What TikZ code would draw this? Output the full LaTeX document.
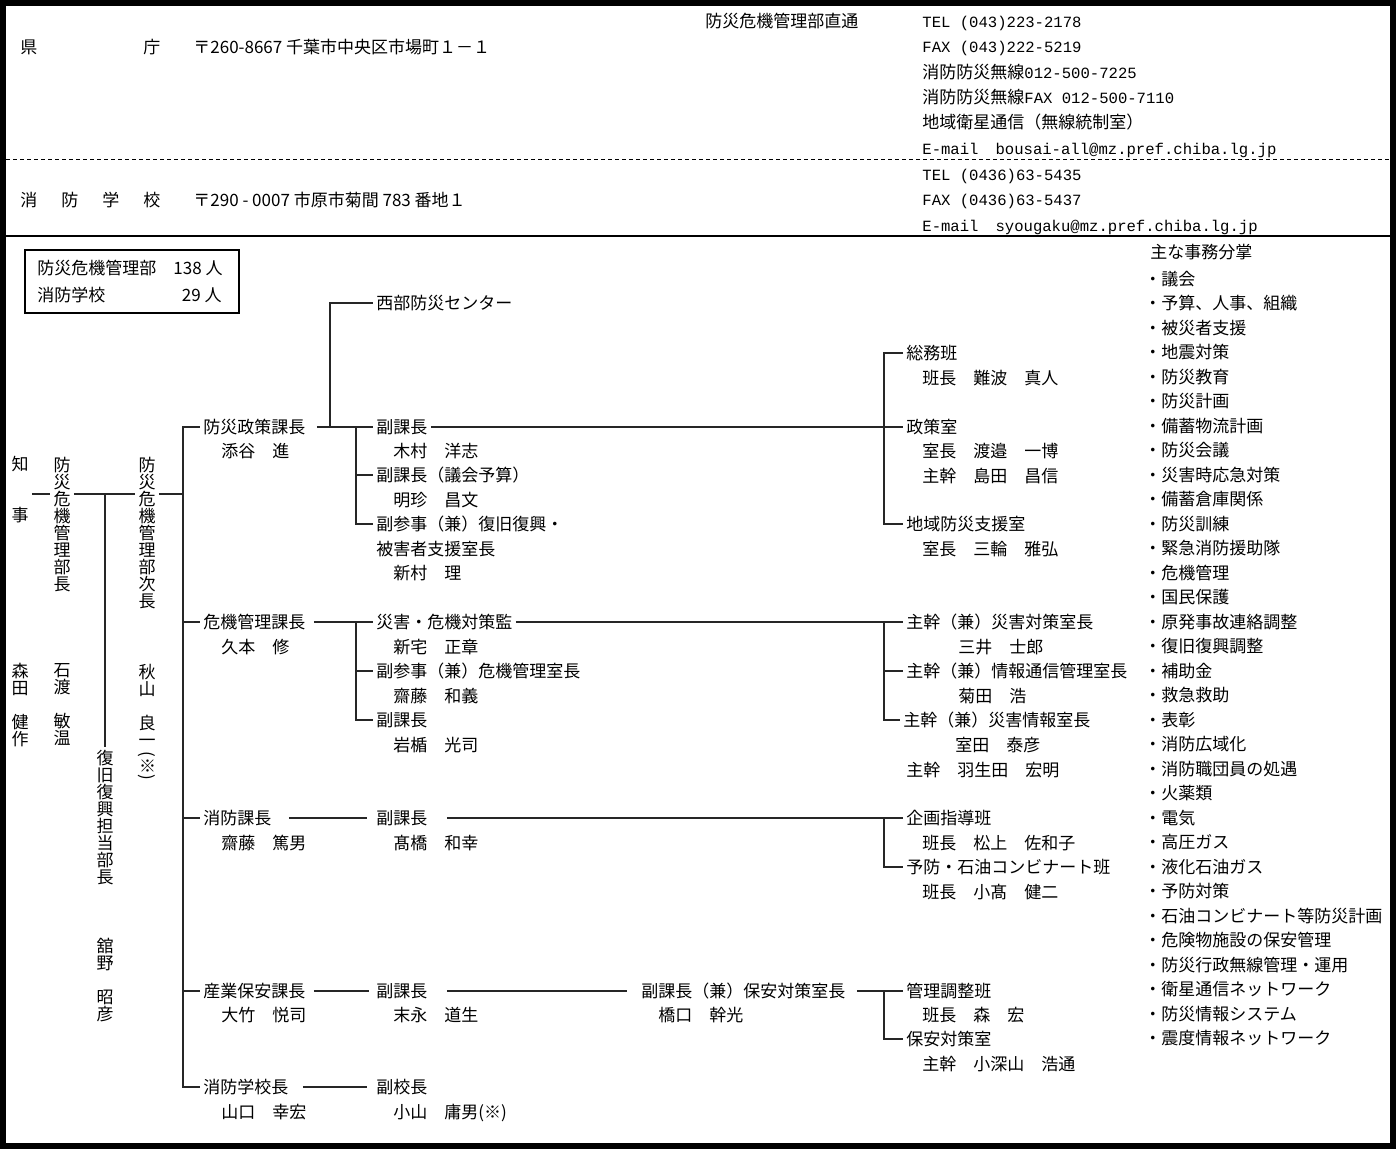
\documentclass[tikz,border=0pt]{standalone}
\usepackage{fontspec}
\setmainfont{Noto Sans CJK JP}
\newfontfamily\hdmono{Liberation Mono}
\usetikzlibrary{calc}
\newcommand{\orgfont}{\fontsize{8.5pt}{8.5pt}\selectfont}
\newcommand{\hdnum}[1]{{\hdmono\fontsize{7.8pt}{8.5pt}\selectfont #1}}

\begin{document}
\begin{tikzpicture}[
    x=0.5pt, y=-0.5pt,
    txt/.style={anchor=west, inner xsep=1.5pt, inner ysep=0pt, font=\orgfont,
                text height=7.2pt, text depth=0.8pt},
    vtxt/.style={align=center, inner sep=1.5pt, font=\orgfont},
    conn/.style={line width=0.8pt, black!85}
]
\useasboundingbox (0,0) rectangle (1396,1149);

% 外枠とヘッダー
\draw[line width=3pt] (3,3) rectangle (1393,1146);
\draw[line width=1pt] (6,236) -- (1390,236);
\draw[line width=0.5pt, dash pattern=on 2pt off 1.5pt] (6,160) -- (1390,160);

\node[txt] (ken)    at (17,47)  {県};
\node[txt] (chou)   at (140,47) {庁};
\node[txt] (addr)   at (190,47) {〒260-8667 千葉市中央区市場町１－１};
\node[txt] (direct) at (702,21) {防災危機管理部直通};
\node[txt] (tel)    at (919,21)  {\hdnum{TEL (043)223-2178}};
\node[txt] (fax)    at (919,46)  {\hdnum{FAX (043)222-5219}};
\node[txt] (musen)  at (919,72)  {消防防災無線\hdnum{012-500-7225}};
\node[txt] (mfax)   at (919,97)  {消防防災無線\hdnum{FAX 012-500-7110}};
\node[txt] (eisei)  at (919,122) {地域衛星通信（無線統制室）};
\node[txt] (mail)   at (919,148) {\hdnum{E-mail}　\hdnum{bousai-all@mz.pref.chiba.lg.jp}};

\node[txt] (school)  at (17,200)  {消\hspace{12pt}防\hspace{12pt}学\hspace{12pt}校};
\node[txt] (saddr)   at (190,200) {〒290 - 0007 市原市菊間 783 番地１};
\node[txt] (stel)    at (919,174) {\hdnum{TEL (0436)63-5435}};
\node[txt] (sfax)    at (919,199) {\hdnum{FAX (0436)63-5437}};
\node[txt] (smail)   at (919,225) {\hdnum{E-mail}　\hdnum{syougaku@mz.pref.chiba.lg.jp}};

% 職員数
\draw[line width=0.6pt] (25,250) rectangle (239,313);
\node[txt] (staff1) at (34,268) {防災危機管理部　138 人};
\node[txt] (staff2) at (34,295) {消防学校};
\node[txt, anchor=east] (staff2n) at (225,295) {29 人};

% 知事・部長・次長
\node[vtxt] (chiji)      at (20,490)  {知\\　\\　\\事};
\node[vtxt] (chijiname)  at (20,705)  {森\\田\\　\\健\\作};
\node[vtxt] (buchou)     at (62,525)  {防\\災\\危\\機\\管\\理\\部\\長};
\node[vtxt] (buchouname) at (62,705)  {石\\渡\\　\\敏\\温};
\node[vtxt] (jichou)     at (147,533) {防\\災\\危\\機\\管\\理\\部\\次\\長};
\node[vtxt] (jichouname) at (147,705) {秋\\山\\　\\良\\一};
\node[vtxt, rotate=-90] (kome) at (147,766) {(※)};
\node[vtxt] (fukkou)     at (105,818) {復\\旧\\復\\興\\担\\当\\部\\長};
\node[vtxt] (fukkouname) at (105,980) {舘\\野\\　\\昭\\彦};

\coordinate (chain)  at (0,494);
\coordinate (fkjoint) at (105,494);
\coordinate (trunk)  at (183,494);
\draw[conn] (chiji.east |- chain) -- (buchou.west |- chain);
\draw[conn] (buchou.east |- chain) -- (jichou.west |- chain);
\draw[conn] (fkjoint) -- (fukkou.north);
\draw[conn] (jichou.east |- chain) -- (trunk);

% 課長
\node[txt] (seisaku)       at (200,427)  {防災政策課長};
\node[txt] (seisakuname)   at (218,451)  {添谷　進};
\node[txt] (kiki)          at (200,622)  {危機管理課長};
\node[txt] (kikiname)      at (218,647)  {久本　修};
\node[txt] (shoubou)       at (200,818)  {消防課長};
\node[txt] (shoubouname)   at (218,843)  {齋藤　篤男};
\node[txt] (sangyou)       at (200,991)  {産業保安課長};
\node[txt] (sangyouname)   at (218,1015) {大竹　悦司};
\node[txt] (gakkoucho)     at (200,1087) {消防学校長};
\node[txt] (gakkouchoname) at (218,1112) {山口　幸宏};

\draw[conn] (gakkoucho.west) -| (trunk) |- (seisaku.west);
\draw[conn] (trunk |- kiki.west) -- (kiki.west);
\draw[conn] (trunk |- shoubou.west) -- (shoubou.west);
\draw[conn] (trunk |- sangyou.west) -- (sangyou.west);

% 副課長など
\node[txt] (seibu)        at (373,303)  {西部防災センター};
\node[txt] (fuku1)        at (373,427)  {副課長};
\node[txt] (fuku1name)    at (390,451)  {木村　洋志};
\node[txt] (fuku2)        at (373,475)  {副課長（議会予算）};
\node[txt] (fuku2name)    at (390,500)  {明珍　昌文};
\node[txt] (fusanji1)     at (373,524)  {副参事（兼）復旧復興・};
\node[txt] (fusanji1b)    at (373,549)  {被害者支援室長};
\node[txt] (fusanji1name) at (390,573)  {新村　理};
\node[txt] (taisaku)      at (373,622)  {災害・危機対策監};
\node[txt] (taisakuname)  at (390,647)  {新宅　正章};
\node[txt] (fusanji2)     at (373,671)  {副参事（兼）危機管理室長};
\node[txt] (fusanji2name) at (390,696)  {齋藤　和義};
\node[txt] (fuku3)        at (373,720)  {副課長};
\node[txt] (fuku3name)    at (390,745)  {岩楯　光司};
\node[txt] (fuku4)        at (373,818)  {副課長};
\node[txt] (fuku4name)    at (390,843)  {髙橋　和幸};
\node[txt] (fuku5)        at (373,991)  {副課長};
\node[txt] (fuku5name)    at (390,1015) {末永　道生};
\node[txt] (hoan)         at (638,991)  {副課長（兼）保安対策室長};
\node[txt] (hoanname)     at (655,1015) {橋口　幹光};
\node[txt] (fukukou)      at (373,1087) {副校長};
\node[txt] (fukukouname)  at (390,1112) {小山　庸男(※)};

% 班・室
\node[txt] (soumu)          at (903,353)  {総務班};
\node[txt] (soumuname)      at (919,378)  {班長　難波　真人};
\node[txt] (seisakushitsu)  at (903,427)  {政策室};
\node[txt] (seisakuname1)   at (919,451)  {室長　渡邉　一博};
\node[txt] (seisakuname2)   at (919,476)  {主幹　島田　昌信};
\node[txt] (chiiki)         at (903,524)  {地域防災支援室};
\node[txt] (chiikiname)     at (919,549)  {室長　三輪　雅弘};
\node[txt] (saigai)         at (903,622)  {主幹（兼）災害対策室長};
\node[txt] (saigainame)     at (955,647)  {三井　士郎};
\node[txt] (jouhou)         at (903,671)  {主幹（兼）情報通信管理室長};
\node[txt] (jouhouname)     at (955,696)  {菊田　浩};
\node[txt] (saigaijouhou)   at (900,720)  {主幹（兼）災害情報室長};
\node[txt] (saigaijouhounm) at (952,745)  {室田　泰彦};
\node[txt] (shukan)         at (903,770)  {主幹　羽生田　宏明};
\node[txt] (kikaku)         at (903,818)  {企画指導班};
\node[txt] (kikakuname)     at (919,843)  {班長　松上　佐和子};
\node[txt] (yobou)          at (903,867)  {予防・石油コンビナート班};
\node[txt] (yobouname)      at (919,892)  {班長　小髙　健二};
\node[txt] (kanri)          at (903,991)  {管理調整班};
\node[txt] (kanriname)      at (919,1015) {班長　森　宏};
\node[txt] (hoanshitsu)     at (903,1039) {保安対策室};
\node[txt] (hoanshitsuname) at (919,1064) {主幹　小深山　浩通};

\coordinate (j1) at (330,0);
\coordinate (j2) at (356,0);
\coordinate (j3) at (884,0);

% 防災政策課
\draw[conn, shorten <=4pt] (seisaku.east) -- (fuku1.west);
\draw[conn] (j1 |- seisaku.east) |- (seibu.west);
\draw[conn] (j2 |- fuku1.west) |- (fusanji1.west);
\draw[conn] (j2 |- fuku2.west) -- (fuku2.west);
\draw[conn] (fuku1.east) -- (seisakushitsu.west);
\draw[conn] (soumu.west) -| (j3 |- chiiki.west) -- (chiiki.west);

% 危機管理課
\draw[conn, shorten <=2.5pt] (kiki.east) -- (taisaku.west);
\draw[conn] (j2 |- taisaku.west) |- (fuku3.west);
\draw[conn] (j2 |- fusanji2.west) -- (fusanji2.west);
\draw[conn] (taisaku.east) -- (saigai.west);
\draw[conn] (j3 |- saigai.west) |- (saigaijouhou.west);
\draw[conn] (j3 |- jouhou.west) -- (jouhou.west);

% 消防課
\draw[conn, shorten <=7pt, shorten >=3pt] (shoubou.east) -- (fuku4.west);
\draw[conn, shorten <=8pt] (fuku4.east) -- (kikaku.west);
\draw[conn] (j3 |- kikaku.west) |- (yobou.west);

% 産業保安課
\draw[conn, shorten <=2.5pt, shorten >=2pt] (sangyou.east) -- (fuku5.west);
\draw[conn, shorten <=8pt, shorten >=5.5pt] (fuku5.east) -- (hoan.west);
\draw[conn, shorten <=4pt] (hoan.east) -- (kanri.west);
\draw[conn] (j3 |- kanri.west) |- (hoanshitsu.west);

% 消防学校
\draw[conn, shorten <=5.5pt, shorten >=3pt] (gakkoucho.east) -- (fukukou.west);

% 主な事務分掌
\node[txt] (dutytitle) at (1147,252) {主な事務分掌};
\foreach \duty [count=\i from 0] in {議会, 予算、人事、組織, 被災者支援, 地震対策,
    防災教育, 防災計画, 備蓄物流計画, 防災会議, 災害時応急対策, 備蓄倉庫関係,
    防災訓練, 緊急消防援助隊, 危機管理, 国民保護, 原発事故連絡調整, 復旧復興調整,
    補助金, 救急救助, 表彰, 消防広域化, 消防職団員の処遇, 火薬類, 電気, 高圧ガス,
    液化石油ガス, 予防対策, 石油コンビナート等防災計画, 危険物施設の保安管理,
    防災行政無線管理・運用, 衛星通信ネットワーク, 防災情報システム, 震度情報ネットワーク}
  \node[txt] (duty\i) at (1141,{279+24.5*\i}) {・\duty};

\end{tikzpicture}
\end{document}
